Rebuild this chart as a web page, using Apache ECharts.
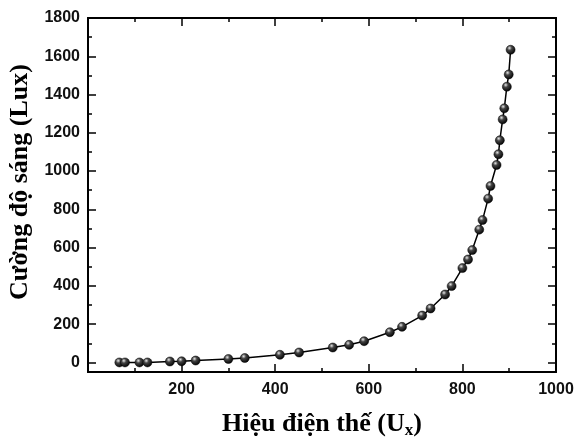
<!DOCTYPE html>
<html>
<head>
<meta charset="utf-8">
<script src="https://cdn.jsdelivr.net/npm/echarts@6/dist/echarts.min.js"></script>
<style>
html,body{margin:0;padding:0;background:#fff;}
#c{width:574px;height:439px;}
</style>
</head>
<body>
<div id="c"></div>
<script>
// Data
var voltage = [67, 79, 110, 127, 175, 200, 230, 300, 335, 410, 451, 523, 558, 590, 645, 671, 714, 732, 763, 777, 800, 812, 821, 836, 843, 855, 860, 873, 877, 880, 886, 889.5, 895, 899, 903];
var lux     = [0, 0, 0, 0, 5, 6, 10, 18, 23, 40, 52, 78, 92, 111, 158, 186, 245, 282, 355, 399, 493, 538, 587, 694, 744, 856, 922, 1032, 1088, 1161, 1270, 1328, 1441, 1505, 1634];
var yMajorTicks = [0, 200, 400, 600, 800, 1000, 1200, 1400, 1600, 1800];
var yMinorTicks = [100, 300, 500, 700, 900, 1100, 1300, 1500, 1700];

var points = voltage.map(function (v, i) { return [v, lux[i]]; });

var chart = echarts.init(document.getElementById('c'), null, {renderer: 'canvas'});
var black = '#000';
var lblFont = {color: '#111', fontWeight: 'bold', fontFamily: 'Liberation Sans, Arial, sans-serif', fontSize: 16};
var titleFont = 'Liberation Serif, Times New Roman, serif';

function yAx(pos, ticks, len, labels, name) {
  var a = {
    type: 'value', position: pos, min: -50, max: 1800,
    axisLine: {show: true, onZero: false, lineStyle: {color: black, width: 2}},
    axisTick: {show: true, inside: true, length: len, customValues: ticks, lineStyle: {color: black, width: 1.5}},
    axisLabel: labels ? Object.assign({show: true, margin: 8, customValues: ticks,
      formatter: function (v) { return String(v); }}, lblFont) : {show: false},
    splitLine: {show: false}
  };
  if (name) {
    a.name = name;
    a.nameLocation = 'middle';
    a.nameGap = 52;
    a.nameTextStyle = {fontFamily: titleFont, fontWeight: 'bold', fontSize: 26, color: '#000', padding: [0, 0, 0, 26]};
  }
  return a;
}
function xAx(pos, labels, name) {
  var a = {
    type: 'value', position: pos, min: 0, max: 1000, interval: 200,
    axisLine: {show: true, onZero: false, lineStyle: {color: black, width: 2}},
    axisTick: {show: true, inside: true, length: 8, lineStyle: {color: black, width: 1.5}},
    minorTick: {show: true, splitNumber: 2, length: 4, lineStyle: {color: black, width: 1.5}},
    axisLabel: labels ? Object.assign({show: true, margin: 10, showMinLabel: false,
      formatter: function (v) { return v === 0 ? '' : String(v); }}, lblFont) : {show: false},
    splitLine: {show: false}, minorSplitLine: {show: false}
  };
  if (name) {
    a.name = name;
    a.nameLocation = 'middle';
    a.nameGap = 38;
    a.nameTextStyle = {fontFamily: titleFont, fontWeight: 'bold', fontSize: 26, color: '#000',
      rich: {sub: {fontFamily: titleFont, fontWeight: 'bold', fontSize: 17, color: '#000', verticalAlign: 'bottom', padding: [12, 0, 0, 0]}}};
  }
  return a;
}

chart.setOption({
  animation: false,
  backgroundColor: '#fff',
  grid: {left: 88, right: 18, top: 18, bottom: 67, containLabel: false, outerBoundsMode: 'none'},
  xAxis: [xAx('bottom', true, 'Hiệu điện thế (U{sub|x})'), xAx('top', false)],
  yAxis: [
    yAx('left', yMajorTicks, 8, true, 'Cường độ sáng (Lux)'),
    yAx('left', yMinorTicks, 4, false),
    yAx('right', yMajorTicks, 8, false),
    yAx('right', yMinorTicks, 4, false)
  ],
  series: [{
    type: 'line',
    xAxisIndex: 0, yAxisIndex: 0,
    data: points,
    symbol: 'circle', symbolSize: 9,
    lineStyle: {color: black, width: 1.5},
    itemStyle: {
      color: {type: 'radial', x: 0.38, y: 0.32, r: 0.7,
        colorStops: [{offset: 0, color: '#e8e8e8'}, {offset: 0.35, color: '#444'}, {offset: 1, color: '#000'}]},
      borderColor: '#000', borderWidth: 0.5
    }
  }]
});
</script>
</body>
</html>
